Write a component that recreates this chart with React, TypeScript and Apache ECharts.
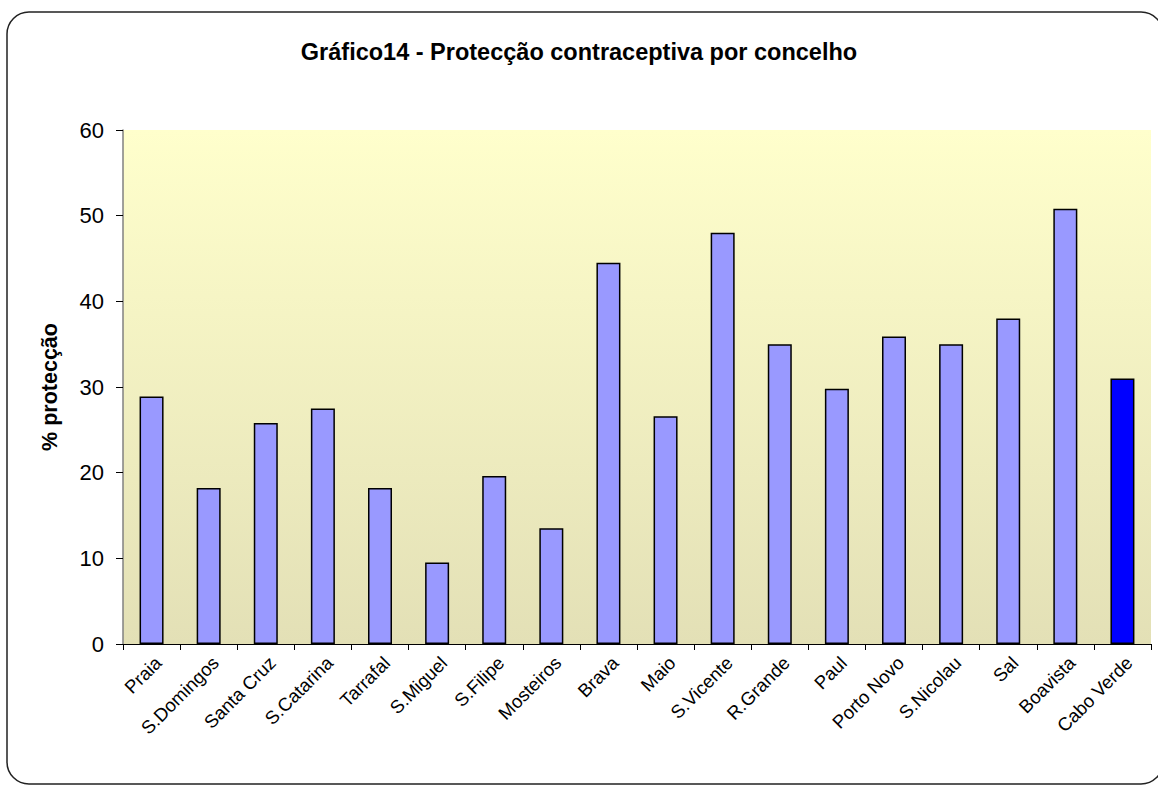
import React, { useEffect, useRef } from "react";
import * as echarts from "echarts";

const titleText = "Gráfico14 - Protecção contraceptiva por concelho";
const yAxisName = "% protecção";
const categories = [
  "Praia", "S.Domingos", "Santa Cruz", "S.Catarina", "Tarrafal", "S.Miguel",
  "S.Filipe", "Mosteiros", "Brava", "Maio", "S.Vicente", "R.Grande", "Paul",
  "Porto Novo", "S.Nicolau", "Sal", "Boavista", "Cabo Verde",
];
const values = [
  28.9, 18.2, 25.8, 27.5, 18.2, 9.5, 19.6, 13.5, 44.5, 26.6, 48.0, 35.0, 29.8,
  35.9, 35.0, 38.0, 50.8, 31.0,
];
const highlightCategory = "Cabo Verde";
const yMin = 0;
const yMax = 60;
const yInterval = 10;

const FONT = "Arial, 'Liberation Sans', sans-serif";

export default function App() {
  const ref = useRef<HTMLDivElement>(null);
  useEffect(() => {
    if (!ref.current) return;
    const chart = echarts.init(ref.current, undefined, { renderer: "svg" });
    chart.setOption({
      animation: false,
      backgroundColor: "#ffffff",
      title: {
        text: titleText,
        left: "center",
        top: 35,
        textStyle: { fontFamily: FONT, fontSize: 23.5, fontWeight: "bold", color: "#000" },
      },
      grid: { left: 123, top: 130, right: 7, bottom: 141, containLabel: false },
      xAxis: {
        type: "category",
        data: categories,
        boundaryGap: true,
        axisLine: { show: true, lineStyle: { color: "#000", width: 1 } },
        axisTick: { show: true, alignWithLabel: false, length: 6, lineStyle: { color: "#000" } },
        axisLabel: {
          interval: 0,
          rotate: 45,
          margin: 9,
          verticalAlign: "top",
          fontFamily: FONT,
          fontSize: 18.5,
          color: "#000",
        },
        splitLine: { show: false },
        z: 10,
      },
      yAxis: {
        type: "value",
        min: yMin,
        max: yMax,
        interval: yInterval,
        name: yAxisName,
        nameLocation: "middle",
        nameGap: 62,
        nameRotate: 90,
        nameTextStyle: { fontFamily: FONT, fontSize: 21.5, fontWeight: "bold", color: "#000" },
        axisLine: { show: true, lineStyle: { color: "#808080", width: 1.5 } },
        axisTick: { show: true, length: 7, lineStyle: { color: "#000" } },
        axisLabel: { fontFamily: FONT, fontSize: 22, color: "#000", margin: 19 },
        splitLine: { show: false },
        splitArea: { show: false },
      },
      series: [
        {
          type: "bar",
          data: values.map((v, i) => ({
            value: v,
            itemStyle: {
              color: categories[i] === highlightCategory ? "#0000FF" : "#9999FF",
              borderColor: "#000",
              borderWidth: 1.5,
            },
          })),
          barWidth: 24,
          z: 5,
        },
      ],
    });
    const grid: any = (chart as any).getModel().getComponent("grid", 0);
    const rect = grid.coordinateSystem.getRect();
    chart.setOption({
      graphic: [
        {
          type: "rect",
          z: -10,
          silent: true,
          shape: { x: 7, y: 12, width: 1156, height: 772, r: 22 },
          style: { fill: "none", stroke: "#222", lineWidth: 1.5 },
        },
        {
          type: "rect",
          z: -5,
          silent: true,
          shape: { x: rect.x, y: rect.y, width: rect.width, height: rect.height },
          style: {
            fill: new echarts.graphic.LinearGradient(0, 0, 0, 1, [
              { offset: 0, color: "#FFFFCC" },
              { offset: 1, color: "#E3E0B6" },
            ]),
          },
        },
      ],
    });
    return () => chart.dispose();
  }, []);
  return (
    <div
      ref={ref}
      style={{ position: "fixed", left: 0, top: 0, width: 1158, height: 785 }}
    />
  );
}
